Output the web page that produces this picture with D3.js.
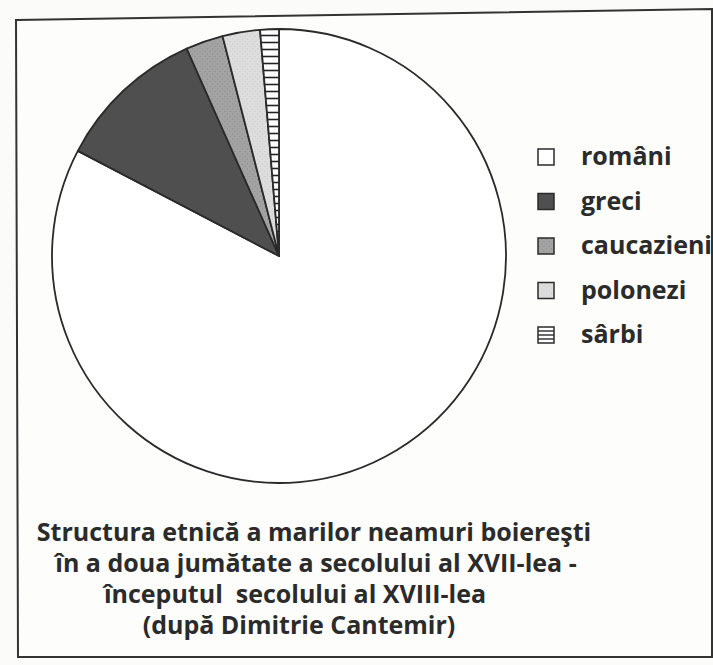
<!DOCTYPE html>
<html>
<head>
<meta charset="utf-8">
<script src="https://cdn.jsdelivr.net/npm/d3@7"></script>
<style>
	body { margin: 0; background: #fbfbfa; }
	svg { display: block; }
	.leg-label, .title { font-family: "Open Sans", "DejaVu Sans", sans-serif; font-weight: 700; fill: #2b2b2b; }
</style>
</head>
<body>
<div id="chart"></div>
<script>
// data (number of boyar families, after Cantemir)
var groups = ["români", "greci", "caucazieni", "polonezi", "sârbi"];
var families = [62, 8, 2, 2, 1];
var titleLines = [
	"Structura etnică a marilor neamuri boiereşti",
	"în a doua jumătate a secolului al XVII-lea -",
	"începutul  secolului al XVIII-lea",
	"(după Dimitrie Cantemir)"
];

var width = 713, height = 665;

var svg = d3.select("#chart").append("svg")
		.attr("width", width)
		.attr("height", height);

// hatch for the last slice, and some grain for the grey ones
var defs = svg.append("defs");

defs.append("pattern")
		.attr("id", "hatch")
		.attr("patternUnits", "userSpaceOnUse")
		.attr("width", 8)
		.attr("height", 7)
	.call(function(p){
		p.append("rect").attr("width", 8).attr("height", 7).attr("fill", "#fff");
		p.append("line").attr("x1", 0).attr("x2", 8).attr("y1", 3.5).attr("y2", 3.5)
			.attr("stroke", "#222").attr("stroke-width", 1.6);
	});

function grain(id, base, dots){
	var p = defs.append("pattern")
			.attr("id", id)
			.attr("patternUnits", "userSpaceOnUse")
			.attr("width", 5)
			.attr("height", 5);
	p.append("rect").attr("width", 5).attr("height", 5).attr("fill", base);
	p.append("rect").attr("x", 0).attr("y", 0).attr("width", 2).attr("height", 1).attr("fill", dots);
	p.append("rect").attr("x", 3).attr("y", 2).attr("width", 1).attr("height", 2).attr("fill", dots);
}
grain("grain-mid", "#a3a3a3", "#969696");
grain("grain-light", "#dddddd", "#d2d2d2");

var fills = ["#ffffff", "#4f4f4f", "url(#grain-mid)", "url(#grain-light)", "url(#hatch)"];
var color = d3.scaleOrdinal().domain(groups).range(fills);

// frame round the whole figure (scan is a bit crooked)
svg.append("path")
		.attr("d", "M16,20 L712,9 L712,657 L18,657 Z")
		.attr("fill", "#fdfdfc")
		.attr("stroke", "#333")
		.attr("stroke-width", 2);

//// pie
var cx = 279, cy = 256, radius = 227;

var pie = d3.pie()
		.sort(null) // keep the order, first slice starts at 12 o'clock
		.value(function(d){ return d.value; });

var arc = d3.arc().innerRadius(0).outerRadius(radius);

var data = groups.map(function(g, i){ return {name: g, value: families[i]}; });

svg.append("g")
		.attr("transform", "translate(" + cx + "," + cy + ")")
	.selectAll("path")
	.data(pie(data))
	.enter().append("path")
		.attr("d", arc)
		.attr("fill", function(d){ return color(d.data.name); })
		.attr("stroke", "#2a2a2a")
		.attr("stroke-width", 1.8)
		.attr("stroke-linejoin", "round");

//// legend
var legY = d3.scalePoint().domain(groups).range([157, 335]);
var box = 16;

var leg = svg.append("g").attr("class", "legend")
	.selectAll("g")
	.data(groups)
	.enter().append("g")
		.attr("transform", function(d){ return "translate(538," + legY(d) + ")"; });

leg.append("rect")
		.attr("x", 0)
		.attr("y", -box / 2)
		.attr("width", box)
		.attr("height", box)
		.attr("fill", function(d){ return d === "sârbi" ? "#fff" : color(d); })
		.attr("stroke", "#2a2a2a")
		.attr("stroke-width", 1.5);

// the hatched box gets its own three lines
leg.filter(function(d){ return d === "sârbi"; })
	.selectAll("line")
	.data([1, 2, 3])
	.enter().append("line")
		.attr("x1", 0).attr("x2", box)
		.attr("y1", function(k){ return -box / 2 + k * box / 4; })
		.attr("y2", function(k){ return -box / 2 + k * box / 4; })
		.attr("stroke", "#2a2a2a")
		.attr("stroke-width", 1.4);

leg.append("text")
		.attr("class", "leg-label")
		.attr("x", 43)
		.attr("y", 8)
		.style("font-size", "25px")
		.text(function(d){ return d; });

//// title
var titleX = [314, 316, 295, 299];
var titleY = d3.scaleLinear().domain([0, 3]).range([541, 634]);

svg.append("g").selectAll("text")
	.data(titleLines)
	.enter().append("text")
		.attr("class", "title")
		.attr("x", function(d, i){ return titleX[i]; })
		.attr("y", function(d, i){ return titleY(i); })
		.attr("text-anchor", "middle")
		.style("font-size", "25px")
		.style("white-space", "pre")
		.text(function(d){ return d; });
</script>
</body>
</html>
